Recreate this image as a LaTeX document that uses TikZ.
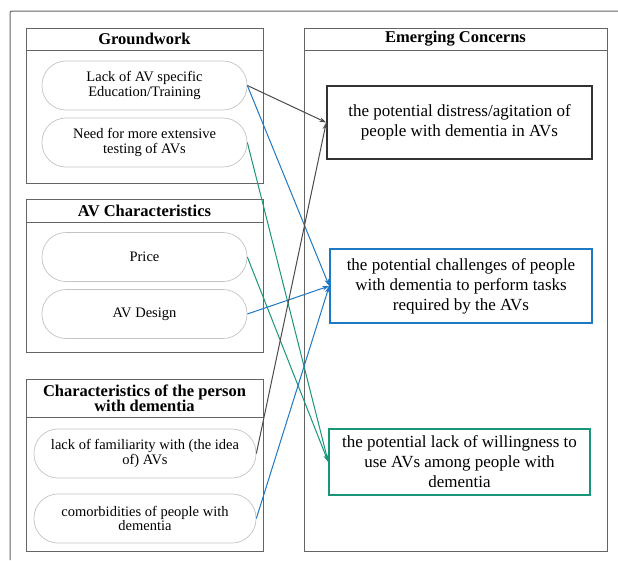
\documentclass[tikz,border=0pt]{standalone}
\usepackage{fontspec}
\setmainfont{Liberation Serif}
\usetikzlibrary{arrows.meta}
\definecolor{framegray}{RGB}{100,100,100}
\definecolor{ovalgray}{RGB}{195,195,195}
\definecolor{concernblue}{RGB}{30,120,195}
\definecolor{concerngreen}{RGB}{25,150,120}
\definecolor{arrowgray}{RGB}{75,75,75}

\begin{document}
\begin{tikzpicture}[x=1pt, y=-1pt,
  groupbox/.style={draw=framegray, line width=0.9pt, inner sep=0pt},
  headbox/.style={draw=framegray, line width=0.9pt, anchor=north, align=center, inner sep=2pt, font=\fontsize{16.5}{15}\selectfont\bfseries},
  oval/.style={draw=ovalgray, line width=0.7pt, rounded corners=24pt, minimum width=205pt, minimum height=49pt, align=center, inner sep=1pt, font=\fontsize{14.5}{14.5}\selectfont},
  concern/.style={line width=1.5pt, align=center, inner sep=2pt, font=\fontsize{17}{20}\selectfont},
  link/.style={->, >={Stealth[length=7pt,width=4.5pt]}, line width=1pt}]
\useasboundingbox (0,0) rectangle (618,560);
\draw[framegray, line width=1pt, rounded corners=2pt] (618,11) -| (10,560);

% groundwork
\node[groupbox, minimum width=237pt, minimum height=155pt] (groundwork) at (144.5,105.5) {};
\node[headbox, minimum width=237pt, minimum height=22pt] (groundworkhead) at (groundwork.north) {Groundwork};
\node[oval] (training) at (144.5,85.5) {Lack of AV specific\\Education/Training};
\node[oval] (testing) at (144.5,142.5) {Need for more extensive\\testing of AVs};

% av characteristics
\node[groupbox, minimum width=237pt, minimum height=153pt] (avchar) at (144.5,275.5) {};
\node[headbox, minimum width=237pt, minimum height=23pt] (avcharhead) at (avchar.north) {AV Characteristics};
\node[oval] (price) at (144.5,257) {Price};
\node[oval] (design) at (144.5,314) {AV Design};

% person with dementia
\node[groupbox, minimum width=237pt, minimum height=172pt] (person) at (144.5,465) {};
\node[headbox, minimum width=237pt, minimum height=38pt] (personhead) at (person.north) {Characteristics of the person\\with dementia};
\node[oval, minimum width=222pt] (familiarity) at (145,453.5) {lack of familiarity with (the idea\\of) AVs};
\node[oval, minimum width=222pt] (comorbid) at (145,518.5) {comorbidities of people with\\dementia};

% emerging concerns
\node[groupbox, minimum width=303pt, minimum height=523pt] (concerns) at (455.5,289.5) {};
\node[headbox, minimum width=303pt, minimum height=22pt] (concernshead) at (concerns.north) {Emerging Concerns};
\node[concern, draw=black!80, minimum width=265pt, minimum height=73pt] (distress) at (459.5,122.5) {the potential distress/agitation of\\people with dementia in AVs};
\node[concern, draw=concernblue, minimum width=262pt, minimum height=74pt] (challenges) at (461,286) {the potential challenges of people\\with dementia to perform tasks\\required by the AVs};
\node[concern, draw=concerngreen, minimum width=261pt, minimum height=66pt] (willingness) at (459.5,462) {the potential lack of willingness to\\use AVs among people with\\dementia};

\draw[link, arrowgray] (training.east) -- (distress.west);
\draw[link, concernblue] (training.east) -- (challenges.west);
\draw[link, concerngreen] (testing.east) -- (willingness.west);
\draw[link, concerngreen] (price.east) -- (willingness.west);
\draw[link, concernblue] (design.east) -- (challenges.west);
\draw[link, arrowgray] (familiarity.east) -- (distress.west);
\draw[link, concernblue] (comorbid.east) -- (challenges.west);
\end{tikzpicture}
\end{document}
